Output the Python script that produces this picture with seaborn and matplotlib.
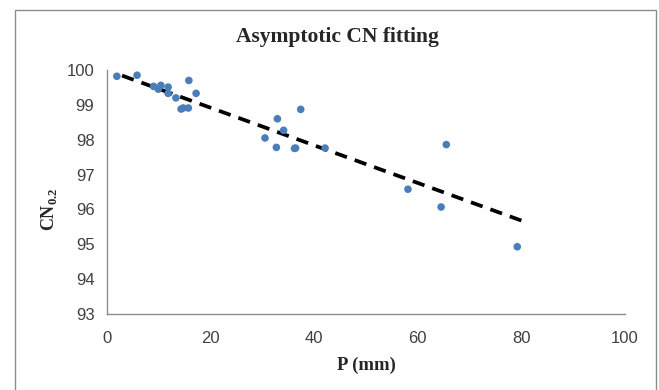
import numpy as np
import pandas as pd
import matplotlib
matplotlib.use("Agg")
import matplotlib.pyplot as plt
import seaborn as sns
from matplotlib.patches import Rectangle

# rainfall depth P (mm) and fitted CN0.2
p_mm = [1.9, 5.8, 9.0, 9.9, 10.4, 11.8, 11.8, 13.3, 15.8, 17.2,
        14.3, 14.7, 15.7, 30.5, 32.9, 34.1, 32.7, 36.2, 36.4, 37.4,
        42.1, 58.1, 64.5, 65.5, 79.2]
cn_02 = [99.82, 99.85, 99.53, 99.45, 99.56, 99.51, 99.33, 99.20, 99.70, 99.33,
         98.88, 98.91, 98.91, 98.05, 98.60, 98.27, 97.78, 97.75, 97.76, 98.87,
         97.76, 96.58, 96.07, 97.86, 94.93]

# dashed fitting line
fit_p = [2.9, 80.0]
fit_cn = [99.84, 95.68]

x_ticks = [0, 20, 40, 60, 80, 100]
y_ticks = [93, 94, 95, 96, 97, 98, 99, 100]

sns.set_style("white")
plt.rcParams["font.family"] = ["Liberation Sans", "DejaVu Sans"]
plt.rcParams["mathtext.fontset"] = "custom"
plt.rcParams["mathtext.rm"] = "Liberation Serif"
plt.rcParams["mathtext.bf"] = "Liberation Serif:bold"

fig = plt.figure(figsize=(6.59, 3.90), dpi=100)
ax = fig.add_axes([107 / 659, 1 - 314 / 390, 518 / 659, 244 / 390])

df = pd.DataFrame({"P": p_mm, "CN": cn_02})
fit_df = pd.DataFrame({"P": fit_p, "CN": fit_cn})

sns.scatterplot(data=df, x="P", y="CN", ax=ax, color="#4a7ebb",
                s=30, edgecolor="none", zorder=3)
sns.lineplot(data=fit_df, x="P", y="CN", ax=ax, color="black",
             linewidth=2.7, zorder=2)
ax.lines[-1].set_dashes([3.3, 2.2])

ax.set_xlim(0, 100)
ax.set_ylim(93, 100)
ax.set_xticks(x_ticks)
ax.set_yticks(y_ticks)
ax.tick_params(axis="y", pad=4)
ax.tick_params(axis="x", pad=7)
ax.tick_params(axis="both", direction="out", length=5, width=1,
               color="#8c8c8c", labelsize=12, labelcolor="#404040")

sns.despine(ax=ax)
for side in ["left", "bottom"]:
    ax.spines[side].set_color("#8c8c8c")
    ax.spines[side].set_linewidth(1)

ax.set_xlabel("P (mm)", family="Liberation Serif", fontweight="bold",
              fontsize=13.5)
ax.xaxis.set_label_coords(0.5, -0.175)
ax.set_ylabel(r"CN$_{\mathbf{0.2}}$", family="Liberation Serif",
              fontweight="bold", fontsize=13)
ax.yaxis.set_label_coords(-0.093, 0.43)

fig.text(337 / 659, 1 - 37 / 390, "Asymptotic CN fitting",
         family="Liberation Serif", fontweight="bold", fontsize=15.5,
         ha="center", va="center")

# chart area border
fig.patches.append(Rectangle((15 / 659, -0.05), 641 / 659, 1.05 - 10 / 390,
                             transform=fig.transFigure, fill=False,
                             edgecolor="#8c8c8c", linewidth=1))

fig.savefig("out.png", dpi=100)
